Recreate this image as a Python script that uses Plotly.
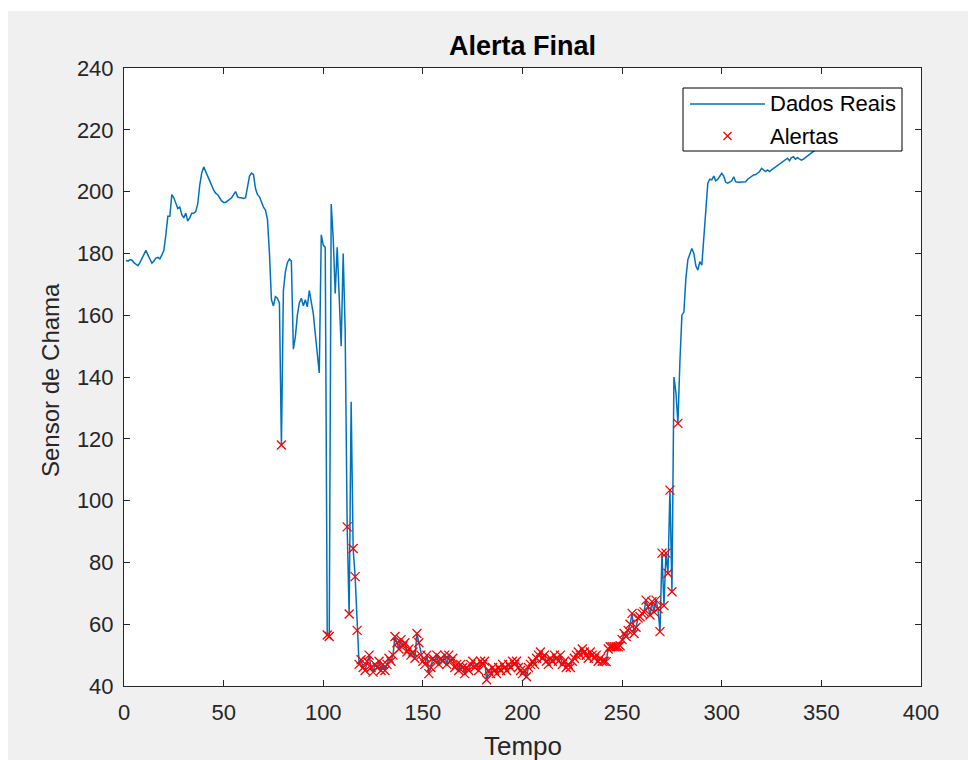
import plotly.graph_objects as go

# ---- data ----
tempo_start = 1
dados_reais = [
    177.7, 177.5, 178.0, 177.8, 177.0, 176.5, 176.0, 177.0, 178.5, 180.0,
    181.0, 179.5, 178.0, 176.8, 177.5, 178.5, 178.7, 178.2, 179.5, 181.0,
    186.0, 192.0, 192.0, 199.0, 198.0, 196.0, 194.5, 195.0, 192.5, 191.5,
    193.0, 190.5, 191.5, 193.0, 193.0, 193.5, 196.0, 202.0, 206.0, 208.0,
    206.5, 205.0, 203.0, 201.5, 200.5, 199.5, 199.0, 198.0, 197.0, 196.5,
    196.5, 197.0, 197.5, 198.0, 199.0, 200.0, 198.3, 198.0, 198.0, 197.8,
    198.0, 202.0, 205.0, 206.0, 205.5, 201.0, 199.0, 198.3, 196.5, 195.0,
    194.0, 191.0, 180.0, 165.0, 163.0, 166.0, 165.5, 164.0, 118.0, 168.0,
    174.0, 177.0, 178.2, 177.5, 149.0, 153.0, 160.0, 164.0, 165.5, 163.0,
    165.0, 162.7, 168.0, 164.0, 160.5, 154.0, 147.0, 141.3, 186.0, 182.7,
    182.0, 56.5, 56.0, 196.0, 185.0, 167.0, 182.0, 165.0, 150.0, 180.0,
    155.0, 91.5, 63.3, 132.0, 84.5, 75.4, 58.0, 47.0, 48.5, 46.0,
    45.0, 48.0, 50.0, 46.0, 44.5, 47.0, 46.0, 48.0, 45.0, 47.0,
    45.0, 47.0, 49.0, 48.0, 50.0, 56.0, 54.0, 52.0, 55.0, 53.0,
    54.0, 51.0, 52.0, 50.0, 51.0, 49.0, 57.0, 54.0, 50.0, 48.0,
    47.0, 50.0, 44.0, 46.0, 49.0, 48.0, 50.0, 47.0, 49.0, 48.0,
    50.0, 47.0, 50.0, 48.0, 49.0, 46.0, 47.0, 45.0, 47.0, 46.0,
    44.0, 46.0, 45.0, 47.0, 48.0, 46.0, 47.0, 45.0, 48.0, 47.0,
    48.0, 42.0, 45.0, 44.0, 46.0, 45.0, 44.0, 46.0, 45.0, 47.0,
    46.0, 45.0, 47.0, 46.0, 48.0, 47.0, 48.0, 46.0, 45.0, 44.0,
    45.0, 43.0, 46.0, 47.0, 48.0, 47.0, 49.0, 50.0, 51.0, 49.0,
    50.0, 48.0, 47.0, 49.0, 48.0, 50.0, 49.0, 48.0, 50.0, 47.0,
    48.0, 46.0, 47.0, 46.0, 48.0, 49.0, 50.0, 51.0, 50.0, 52.0,
    51.0, 50.0, 49.0, 51.0, 50.0, 49.0, 50.0, 48.0, 49.0, 48.0,
    48.0, 47.9, 52.0, 52.7, 52.7, 52.7, 52.7, 52.7, 53.0, 55.0,
    57.0, 56.0, 58.0, 60.0, 63.5, 57.0, 59.0, 62.0, 62.4, 63.5,
    64.0, 67.8, 65.7, 63.0, 67.3, 64.0, 67.8, 65.0, 57.6, 83.0,
    66.0, 83.0, 76.5, 103.4, 70.5, 140.0, 135.0, 125.0, 145.0, 160.0,
    161.0, 172.0, 178.0, 180.0, 181.6, 180.0, 176.0, 174.6, 177.3, 176.2,
    185.0, 196.0, 202.7, 204.0, 203.8, 205.0, 203.5, 204.0, 205.0, 205.9,
    205.0, 203.0, 202.7, 203.0, 203.5, 204.8, 203.2, 203.0, 203.0, 203.0,
    203.2, 203.2, 204.0, 204.5, 205.0, 205.4, 205.5, 206.0, 206.5, 207.5,
    207.0, 206.5, 207.0, 206.5, 207.0, 207.5, 208.0, 208.5, 209.0, 209.5,
    210.0, 210.5, 210.8, 210.0, 211.0, 211.3, 210.5, 211.0, 210.5, 210.2,
    210.5, 211.0, 211.5, 211.8, 212.3, 213.0, 213.5, 214.0, 214.0, 214.5,
]
limiar_alerta = 130  # values below this are flagged as alerts

tempo = list(range(tempo_start, tempo_start + len(dados_reais)))
alert_t = [t for t, v in zip(tempo, dados_reais) if v < limiar_alerta]
alert_v = [v for v in dados_reais if v < limiar_alerta]

x_ticks = [0, 50, 100, 150, 200, 250, 300, 350, 400]
y_ticks = [40, 60, 80, 100, 120, 140, 160, 180, 200, 220, 240]
legend_labels = ["Dados Reais", "Alertas"]
x_title = "Tempo"
y_title = "Sensor de Chama"

FONT = "Liberation Sans, Arial, Helvetica, sans-serif"
AX = "#262626"
BLUE = "#0072BD"
RED = "#FF0000"

# plot area in page pixels (page has an 8px body margin)
PW, PH = 797, 618


def px(xp):  # page x pixel -> paper x
    return (xp - 124) / PW


def py(yp):  # page y pixel -> paper y
    return (686 - yp) / PH


fig = go.Figure()
fig.add_trace(go.Scatter(
    x=tempo, y=dados_reais, mode="lines", name=legend_labels[0],
    line=dict(color=BLUE, width=1.5), showlegend=False,
))
fig.add_trace(go.Scatter(
    x=alert_t, y=alert_v, mode="markers", name=legend_labels[1],
    marker=dict(symbol="x-thin-open", size=9, color=RED,
                line=dict(color=RED, width=1.3)),
    showlegend=False,
))

axis_common = dict(
    showline=True, linecolor=AX, linewidth=1, mirror="ticks",
    ticks="inside", ticklen=6, tickcolor=AX, tickwidth=1,
    showgrid=False, zeroline=False, automargin=False,
    tickfont=dict(family=FONT, size=22, color=AX),
)

shapes = [
    # white strip above the grey figure
    dict(type="rect", xref="paper", yref="paper", layer="below",
         x0=px(0), x1=px(980), y0=py(11), y1=py(0),
         fillcolor="#FFFFFF", line=dict(width=0)),
    # legend box
    dict(type="rect", xref="paper", yref="paper", layer="above",
         x0=px(683), x1=px(902), y0=py(151), y1=py(88),
         fillcolor="#FFFFFF", line=dict(color="#000000", width=1)),
    # legend line sample
    dict(type="line", xref="paper", yref="paper", layer="above",
         x0=px(690), x1=px(765), y0=py(104), y1=py(104),
         line=dict(color=BLUE, width=1.5)),
    # legend x marker
    dict(type="line", xref="paper", yref="paper", layer="above",
         x0=px(723.5), x1=px(731.5), y0=py(132), y1=py(140),
         line=dict(color=RED, width=1.3)),
    dict(type="line", xref="paper", yref="paper", layer="above",
         x0=px(723.5), x1=px(731.5), y0=py(140), y1=py(132),
         line=dict(color=RED, width=1.3)),
]

annotations = [
    dict(text=legend_labels[0], xref="paper", yref="paper",
         x=px(768), y=py(104), xanchor="left", yanchor="middle",
         showarrow=False, font=dict(family=FONT, size=22, color="#000000")),
    dict(text=legend_labels[1], xref="paper", yref="paper",
         x=px(768), y=py(136), xanchor="left", yanchor="middle",
         showarrow=False, font=dict(family=FONT, size=22, color="#000000")),
    # axis titles
    dict(text=x_title, xref="paper", yref="paper",
         x=0.5, y=py(746), xanchor="center", yanchor="middle",
         showarrow=False, font=dict(family=FONT, size=26, color=AX)),
    dict(text=y_title, xref="paper", yref="paper", textangle=-90,
         x=px(50), y=py(380), xanchor="center", yanchor="middle",
         showarrow=False, font=dict(family=FONT, size=24, color=AX)),
]

fig.update_layout(
    width=968, height=752,
    margin=dict(l=116, r=55, t=60, b=74),
    paper_bgcolor="#F0F0F0", plot_bgcolor="#FFFFFF",
    font=dict(family=FONT, color=AX),
    title=dict(text="<b>Alerta Final</b>", x=0.5, xref="paper", xanchor="center",
               y=1 - 38 / 752, yanchor="middle", yref="container",
               font=dict(family=FONT, size=27, color="#000000")),
    xaxis=dict(range=[0, 400], tickvals=x_ticks, ticklabelstandoff=7, **axis_common),
    yaxis=dict(range=[40, 240], tickvals=y_ticks, ticklabelstandoff=5, **axis_common),
    showlegend=False,
    shapes=shapes,
    annotations=annotations,
)

fig.write_html("out.html")
